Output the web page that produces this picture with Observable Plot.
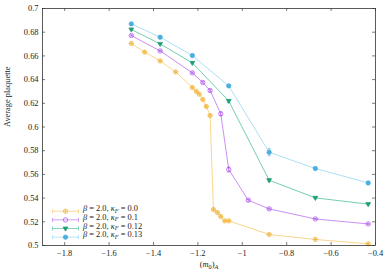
<!DOCTYPE html>
<html><head><meta charset="utf-8">
<script src="https://cdn.jsdelivr.net/npm/d3@7"></script>
<script src="https://cdn.jsdelivr.net/npm/@observablehq/plot@0.6"></script>
<style>
body{margin:0;background:#fff;}
svg{font-family:"Liberation Serif",serif;}
</style>
</head><body><div id="chart"></div>
<script>
// ---- data ----
const seriesNames = ["0.0", "0.1", "0.12", "0.13"];
const xK0 = [-1.5,-1.44,-1.37,-1.30,-1.225,-1.207,-1.194,-1.178,-1.162,-1.145,-1.130,-1.112,-1.097,-1.079,-1.061,-0.879,-0.671,-0.433];
const yK0 = [0.6705,0.6632,0.6558,0.6465,0.6333,0.6300,0.6277,0.6232,0.6173,0.6097,0.5304,0.5278,0.5245,0.5208,0.5208,0.5093,0.5051,0.5014];
const eK0 = [0.0005,0.0005,0.0005,0.0005,0.0006,0.0006,0.0006,0.0007,0.0008,0.0010,0.0008,0.0006,0.0006,0.0005,0.0005,0.0005,0.0004,0.0004];
const xK1 = [-1.5,-1.37,-1.225,-1.178,-1.145,-1.097,-1.061,-0.973,-0.879,-0.671,-0.433];
const yK1 = [0.6772,0.6642,0.6457,0.6376,0.6308,0.6111,0.5641,0.5382,0.5309,0.5224,0.5182];
const eK1 = [0.0005,0.0005,0.0006,0.0007,0.0008,0.0015,0.0020,0.0008,0.0006,0.0005,0.0005];
const xK2 = [-1.5,-1.37,-1.225,-1.061,-0.879,-0.671,-0.433];
const yK2 = [0.6823,0.6701,0.6541,0.6220,0.5551,0.5402,0.5349];
const eK2 = [0.0005,0.0005,0.0006,0.0012,0.0012,0.0006,0.0005];
const xK3 = [-1.5,-1.37,-1.225,-1.061,-0.879,-0.671,-0.433];
const yK3 = [0.6870,0.6758,0.6603,0.6347,0.5787,0.5650,0.5528];
const eK3 = [0.0005,0.0005,0.0006,0.0010,0.0030,0.0008,0.0006];
const xTicks = [-1.8,-1.6,-1.4,-1.2,-1.0,-0.8,-0.6,-0.4];
const yTicks = [0.5,0.52,0.54,0.56,0.58,0.6,0.62,0.64,0.66,0.68,0.7];

// ---- styles ----
const markColors = ["#f0b43c", "#a94ee6", "#1f9e78", "#4aaee0"];
const lineColors = ["#f6cc6c", "#bd72f0", "#52c29a", "#98d6f3"];
const FS = 8.4, FSS = 6.2;

const W = 390, H = 273, mL = 42, mR = 15, mT = 8, mB = 28;
const iW = W - mL - mR, iH = H - mT - mB;

const raw = [[xK0,yK0,eK0],[xK1,yK1,eK1],[xK2,yK2,eK2],[xK3,yK3,eK3]];
const data = raw.flatMap(([xs,ys,es],s) => xs.map((x,i)=>({s, x, y: ys[i], e: es[i]})));
const bySeries = s => data.filter(d => d.s === s);

// custom symbols
const oplus = {draw(c, size){const r=Math.sqrt(size/Math.PI); c.moveTo(r,0); c.arc(0,0,r,0,2*Math.PI); c.moveTo(-r,0); c.lineTo(r,0); c.moveTo(0,-r); c.lineTo(0,r);}};
const ocirc = {draw(c, size){const r=Math.sqrt(size/Math.PI); c.moveTo(r,0); c.arc(0,0,r,0,2*Math.PI);}};
const triDown = {draw(c, size){const r=Math.sqrt(size/Math.PI); c.moveTo(0,r*1.2); c.lineTo(-r*1.1,-r*0.7); c.lineTo(r*1.1,-r*0.7); c.closePath();}};
const cap = {draw(c){c.moveTo(-1.6,0); c.lineTo(1.6,0);}};
const legBar = {draw(c){c.moveTo(-13,0); c.lineTo(13,0); c.moveTo(-13,-2); c.lineTo(-13,2); c.moveTo(13,-2); c.lineTo(13,2);}};
const symbols = [oplus, ocirc, triDown, ocirc];
const fills = ["none", "none", markColors[2], markColors[3]];

const marks = [];
for (let s = 0; s < 4; s++) {
  const d = bySeries(s);
  marks.push(Plot.line(d, {x:"x", y:"y", stroke: lineColors[s], strokeWidth: 0.8}));
  marks.push(Plot.ruleX(d, {x:"x", y1: v=>v.y-v.e, y2: v=>v.y+v.e, stroke: markColors[s], strokeWidth: 0.6}));
  marks.push(Plot.dot(d, {x:"x", y: v=>v.y-v.e, symbol: cap, stroke: markColors[s], strokeWidth: 0.6}));
  marks.push(Plot.dot(d, {x:"x", y: v=>v.y+v.e, symbol: cap, stroke: markColors[s], strokeWidth: 0.6}));
  marks.push(Plot.dot(d, {x:"x", y:"y", r: 2.2, symbol: symbols[s], stroke: markColors[s], fill: fills[s], strokeWidth: 0.7}));
}

// legend
const legRows = seriesNames.map((n, i) => ({i, n}));
const rowDy = i => -34.3 + i * 8.65;
for (const r of legRows) {
  marks.push(Plot.dot([r], {frameAnchor:"bottom-left", dx: 23, dy: rowDy(r.i), symbol: legBar, stroke: lineColors[r.i], strokeWidth: 0.7}));
  marks.push(Plot.dot([r], {frameAnchor:"bottom-left", dx: 23, dy: rowDy(r.i), r: 2.2, symbol: symbols[r.i], stroke: markColors[r.i], fill: fills[r.i], strokeWidth: 0.7}));
  marks.push(Plot.text([r], {frameAnchor:"bottom-left", dx: 40.5, dy: rowDy(r.i), text: d => "LEG|" + d.n, textAnchor:"start", fontSize: FS, fill:"#222"}));
}

// frame, inward ticks
marks.push(Plot.tickY(yTicks, {y: d=>d, insetRight: iW - 3, stroke:"#444", strokeWidth: 0.7}));
marks.push(Plot.tickY(yTicks, {y: d=>d, insetLeft: iW - 3, stroke:"#444", strokeWidth: 0.7}));
marks.push(Plot.tickX(xTicks, {x: d=>d, insetTop: iH - 3, stroke:"#444", strokeWidth: 0.7}));
marks.push(Plot.tickX(xTicks, {x: d=>d, insetBottom: iH - 3, stroke:"#444", strokeWidth: 0.7}));
marks.push(Plot.frame({stroke:"#333", strokeWidth: 0.8}));
marks.push(Plot.axisX(xTicks, {tickSize: 0, tickPadding: 5, tickFormat: d3.format(""), fontSize: FS, label: null}));
marks.push(Plot.axisY(yTicks, {tickSize: 0, tickPadding: 4, tickFormat: d3.format(""), fontSize: FS, label: null}));
marks.push(Plot.text(["Average plaquette"], {frameAnchor:"left", dx: -35, rotate: -90, text: d=>d, fontSize: FS, fill:"#222"}));
marks.push(Plot.text(["XLAB"], {frameAnchor:"bottom", dy: 21.5, text: d=>d, fontSize: FS, fill:"#222"}));

const chart = Plot.plot({
  width: W, height: H,
  marginLeft: mL, marginRight: mR, marginTop: mT, marginBottom: mB,
  x: {domain: [-1.9, -0.4]},
  y: {domain: [0.5, 0.7]},
  style: {fontFamily: "'Liberation Serif', serif", color: "#222", background: "#fff"},
  marks
});
document.getElementById("chart").appendChild(chart);

// rich text: subscripts & italics
d3.select(chart).selectAll("text").each(function() {
  const t = d3.select(this);
  const s = t.text();
  if (s.startsWith("LEG|")) {
    const n = s.slice(4);
    t.text(null);
    t.append("tspan").attr("font-style","italic").text("β");
    t.append("tspan").text(" = 2.0, ");
    t.append("tspan").attr("font-style","italic").text("κ");
    t.append("tspan").attr("font-style","italic").attr("font-size",FSS).attr("dy","1.6").text("F");
    t.append("tspan").attr("dy","-1.6").text(" = " + n);
  } else if (s === "XLAB") {
    t.text(null);
    t.append("tspan").text("(");
    t.append("tspan").attr("font-style","italic").text("m");
    t.append("tspan").attr("font-size",FSS).attr("dy","1.6").text("0");
    t.append("tspan").attr("dy","-1.6").text(")");
    t.append("tspan").attr("font-style","italic").attr("font-size",FSS).attr("dy","1.6").text("A");
  }
});
</script>
</body></html>
